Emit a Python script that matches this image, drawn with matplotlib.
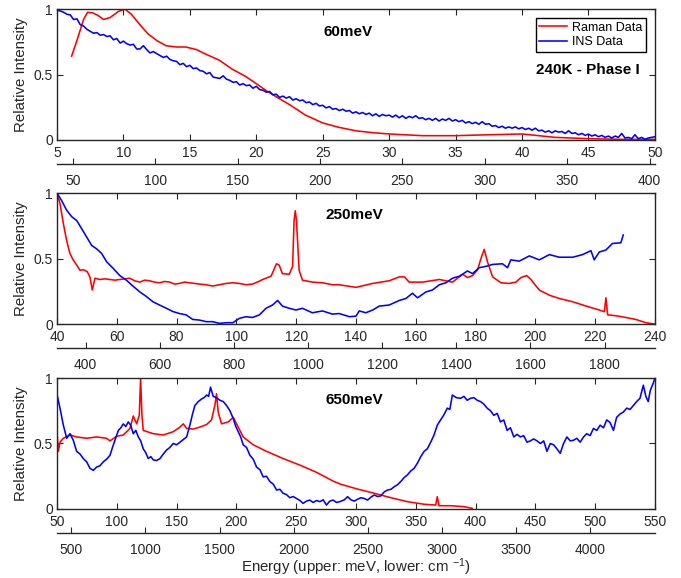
import numpy as np
import matplotlib
matplotlib.use('Agg')
import matplotlib.pyplot as plt

plt.rcParams['font.family'] = ['Liberation Sans', 'DejaVu Sans']
plt.rcParams['mathtext.default'] = 'regular'

MEV_TO_CM = 8.06554
AX_COLOR = '#262626'

# --- 60 meV, 240K ---
raman60_mev = [6.1, 6.5, 7.0, 7.3, 7.7, 8.1, 8.5, 9.0, 9.6, 10.1,
               10.6, 11.2, 11.85, 12.5, 13.2, 14.0, 14.7, 15.5, 16.2, 17.2,
               18.2, 19.2, 20.0, 20.7, 21.5, 22.5, 23.7, 25.0, 26.2, 27.5,
               28.75, 30, 32.5, 35, 37.5, 40, 41.25, 42.5, 45, 47.5,
               50]
raman60_int = [0.64, 0.76, 0.92, 0.975, 0.97, 0.95, 0.92, 0.935, 0.98, 1.0,
               0.96, 0.885, 0.81, 0.76, 0.72, 0.71, 0.71, 0.69, 0.655, 0.61,
               0.54, 0.485, 0.43, 0.38, 0.33, 0.27, 0.19, 0.13, 0.097, 0.07,
               0.056, 0.046, 0.033, 0.033, 0.04, 0.046, 0.033, 0.02, 0.01, 0.005,
               0.005]

ins60_mev = [5.0, 5.25, 5.5, 5.75, 6.0, 6.25, 6.5, 6.75,
             7.0, 7.25, 7.5, 7.75, 8.0, 8.25, 8.5, 8.75,
             9.0, 9.25, 9.5, 9.75, 10.0, 10.25, 10.5, 10.75,
             11.0, 11.25, 11.5, 11.75, 12.0, 12.25, 12.5, 12.75,
             13.0, 13.25, 13.5, 13.75, 14.0, 14.25, 14.5, 14.75,
             15.0, 15.25, 15.5, 15.75, 16.0, 16.25, 16.5, 16.75,
             17.0, 17.25, 17.5, 17.75, 18.0, 18.25, 18.5, 18.75,
             19.0, 19.25, 19.5, 19.75, 20.0, 20.25, 20.5, 20.75,
             21.0, 21.25, 21.5, 21.75, 22.0, 22.25, 22.5, 22.75,
             23.0, 23.25, 23.5, 23.75, 24.0, 24.25, 24.5, 24.75,
             25.0, 25.25, 25.5, 25.75, 26.0, 26.25, 26.5, 26.75,
             27.0, 27.25, 27.5, 27.75, 28.0, 28.25, 28.5, 28.75,
             29.0, 29.25, 29.5, 29.75, 30.0, 30.25, 30.5, 30.75,
             31.0, 31.25, 31.5, 31.75, 32.0, 32.25, 32.5, 32.75,
             33.0, 33.25, 33.5, 33.75, 34.0, 34.25, 34.5, 34.75,
             35.0, 35.25, 35.5, 35.75, 36.0, 36.25, 36.5, 36.75,
             37.0, 37.25, 37.5, 37.75, 38.0, 38.25, 38.5, 38.75,
             39.0, 39.25, 39.5, 39.75, 40.0, 40.25, 40.5, 40.75,
             41.0, 41.25, 41.5, 41.75, 42.0, 42.25, 42.5, 42.75,
             43.0, 43.25, 43.5, 43.75, 44.0, 44.25, 44.5, 44.75,
             45.0, 45.25, 45.5, 45.75, 46.0, 46.25, 46.5, 46.75,
             47.0, 47.25, 47.5, 47.75, 48.0, 48.25, 48.5, 48.75,
             49.0, 49.25, 49.5, 49.75, 50.0]
ins60_int = [0.99, 0.985, 0.975, 0.96, 0.955, 0.92, 0.925, 0.88,
             0.87, 0.845, 0.83, 0.815, 0.82, 0.80, 0.805, 0.79,
             0.795, 0.765, 0.775, 0.74, 0.755, 0.735, 0.725, 0.73,
             0.695, 0.695, 0.72, 0.69, 0.665, 0.675, 0.66, 0.645,
             0.63, 0.64, 0.615, 0.605, 0.60, 0.575, 0.585, 0.56,
             0.57, 0.545, 0.55, 0.53, 0.525, 0.505, 0.515, 0.48,
             0.475, 0.47, 0.49, 0.465, 0.455, 0.44, 0.445, 0.42,
             0.43, 0.415, 0.42, 0.395, 0.41, 0.385, 0.38, 0.365,
             0.37, 0.345, 0.35, 0.325, 0.335, 0.32, 0.33, 0.305,
             0.315, 0.30, 0.305, 0.285, 0.29, 0.27, 0.28, 0.26,
             0.265, 0.245, 0.255, 0.235, 0.24, 0.225, 0.235, 0.22,
             0.225, 0.205, 0.215, 0.20, 0.21, 0.195, 0.205, 0.185,
             0.20, 0.18, 0.195, 0.185, 0.19, 0.175, 0.19, 0.17,
             0.185, 0.165, 0.18, 0.17, 0.185, 0.165, 0.17, 0.155,
             0.165, 0.15, 0.165, 0.145, 0.16, 0.15, 0.165, 0.145,
             0.155, 0.14, 0.15, 0.13, 0.14, 0.125, 0.135, 0.12,
             0.14, 0.12, 0.125, 0.105, 0.11, 0.095, 0.105, 0.09,
             0.10, 0.09, 0.10, 0.085, 0.095, 0.08, 0.09, 0.075,
             0.09, 0.07, 0.075, 0.06, 0.07, 0.055, 0.07, 0.06,
             0.065, 0.05, 0.07, 0.05, 0.055, 0.04, 0.05, 0.035,
             0.045, 0.03, 0.04, 0.025, 0.035, 0.02, 0.03, 0.015,
             0.03, 0.02, 0.05, 0.015, 0.02, 0.01, 0.04, 0.01,
             0.02, 0.005, 0.015, 0.02, 0.025]

# --- 250 meV ---
raman250_mev = [40, 41, 42.1, 43.2, 44.3, 45.4, 46.6, 47.7, 48.8, 50.1,
                51, 51.8, 52.7, 54.3, 56, 57.7, 59.4, 61, 62.6, 64.3,
                66, 67.7, 69.3, 71, 72.6, 74.3, 76, 77.7, 79.3, 81,
                82.6, 84.3, 86, 87.7, 89.9, 92.1, 94.3, 96.6, 98.8, 101,
                103.2, 105.4, 107, 108.8, 111.6, 113.4, 114.3, 115.4, 117.7, 118.8,
                119.3, 119.7, 120.1, 121, 122.1, 125.4, 128.8, 132.1, 134.4, 140,
                145.6, 151.1, 154.5, 156.2, 157.8, 162.3, 167.9, 172.3, 175.7, 177.3,
                179, 180.7, 181.8, 182.9, 184, 185.7, 188.5, 191.3, 193.5, 195.2,
                197.1, 198.5, 201.3, 204.7, 208, 212.5, 217, 221.4, 223.1, 223.6,
                224.2, 227, 230.3, 233.6, 237, 239.8]
raman250_int = [1.0, 0.92, 0.77, 0.64, 0.54, 0.49, 0.45, 0.41, 0.415, 0.40,
                0.36, 0.26, 0.35, 0.34, 0.345, 0.34, 0.335, 0.34, 0.345, 0.35,
                0.33, 0.32, 0.335, 0.33, 0.32, 0.315, 0.325, 0.32, 0.305, 0.31,
                0.32, 0.315, 0.31, 0.305, 0.30, 0.29, 0.30, 0.31, 0.315, 0.31,
                0.30, 0.305, 0.32, 0.34, 0.365, 0.46, 0.45, 0.385, 0.38, 0.44,
                0.79, 0.865, 0.79, 0.41, 0.335, 0.32, 0.315, 0.30, 0.30, 0.28,
                0.31, 0.33, 0.36, 0.36, 0.32, 0.32, 0.34, 0.32, 0.38, 0.355,
                0.37, 0.415, 0.50, 0.57, 0.475, 0.36, 0.315, 0.31, 0.32, 0.355,
                0.37, 0.34, 0.26, 0.22, 0.195, 0.17, 0.137, 0.107, 0.094, 0.20,
                0.07, 0.063, 0.05, 0.035, 0.01, 0.0]

ins250_mev = [40, 41.6, 43.2, 44.9, 46.6, 48.2, 49.9, 51.6, 53.2, 54.9,
              56.6, 58.8, 61, 63.2, 65.4, 67.7, 69.9, 72.1, 74.3, 76.6,
              78.8, 81, 83.2, 85.4, 87.7, 89.9, 92.1, 94.3, 96.6, 98.8,
              101, 103.2, 105.4, 107.7, 109.9, 112.1, 113.8, 115.4, 117.7, 119.9,
              122.1, 125.4, 128.8, 132.1, 134.4, 137.8, 140, 141.1, 143.3, 145.6,
              147.8, 151.1, 154.5, 156.7, 158.9, 160.6, 163.4, 165.6, 167.9, 170.1,
              172.3, 174.6, 177.3, 179, 181.2, 183.4, 185.7, 189, 190.7, 191.8,
              194.6, 198, 201.3, 204.7, 208, 210.2, 212.5, 215.8, 218.6, 219.7,
              221.4, 223.6, 225.8, 228.6, 229.4]
ins250_int = [1.0, 0.94, 0.87, 0.82, 0.79, 0.73, 0.665, 0.60, 0.575, 0.54,
              0.475, 0.425, 0.37, 0.335, 0.29, 0.245, 0.21, 0.17, 0.145, 0.12,
              0.095, 0.08, 0.07, 0.035, 0.03, 0.018, 0.018, 0.005, 0.01, 0.01,
              0.043, 0.056, 0.05, 0.07, 0.12, 0.145, 0.18, 0.137, 0.12, 0.107,
              0.12, 0.086, 0.10, 0.076, 0.08, 0.056, 0.06, 0.10, 0.086, 0.107,
              0.137, 0.145, 0.18, 0.195, 0.235, 0.20, 0.245, 0.26, 0.30, 0.315,
              0.35, 0.365, 0.405, 0.385, 0.43, 0.44, 0.455, 0.46, 0.43, 0.49,
              0.48, 0.52, 0.49, 0.53, 0.51, 0.51, 0.51, 0.53, 0.56, 0.49,
              0.55, 0.565, 0.615, 0.62, 0.68]

# --- 650 meV ---
raman650_mev = [50, 51.1, 52.5, 55.3, 60.9, 66.4, 74.8, 83.1, 91.5, 94.3,
                99.9, 105.4, 111, 113.8, 116.6, 118.8, 119.9, 121, 122.1, 130.5,
                138.9, 147.2, 152.8, 155.6, 158.4, 163.9, 169.5, 175.1, 179.2, 182,
                183.4, 184.8, 187.6, 193.2, 197.4, 200.7, 205.7, 214.1, 225.2, 239.1,
                253.1, 267, 280.9, 287.5, 301.4, 315.3, 329.2, 343, 357, 366.7,
                368, 369.4, 379, 390.3, 397.2]
raman650_int = [0.59, 0.44, 0.51, 0.54, 0.565, 0.55, 0.54, 0.55, 0.54, 0.52,
                0.555, 0.565, 0.615, 0.71, 0.65, 0.715, 1.0, 0.72, 0.60, 0.575,
                0.565, 0.59, 0.625, 0.65, 0.615, 0.61, 0.625, 0.645, 0.68, 0.79,
                0.88, 0.74, 0.65, 0.665, 0.70, 0.64, 0.55, 0.49, 0.44, 0.385,
                0.335, 0.28, 0.213, 0.188, 0.152, 0.12, 0.086, 0.056, 0.036, 0.03,
                0.094, 0.025, 0.025, 0.018, 0.005]

ins650_mev = [50, 52.5, 55.3, 58.1, 60.9, 63.6, 66.4, 69.2, 72, 74.8,
              77.6, 80.4, 83.1, 85.9, 88.7, 91.5, 94.3, 96.4, 98.5, 101.3,
              103.4, 105.4, 107.5, 109.6, 111.6, 113.8, 115.9, 118, 120, 122.1,
              124.2, 126.3, 128.4, 130.5, 133.3, 136.1, 138.9, 141.6, 144.4, 147.2,
              150, 152.8, 155.6, 158.4, 161.1, 163.2, 165.3, 168.1, 170.9, 173,
              175.1, 176.8, 178.4, 180.6, 183.4, 186.2, 189, 191.8, 194.6, 197.4,
              199.5, 201.5, 203.6, 205.7, 208.5, 211.3, 214.1, 216.9, 219.7, 222.4,
              225.2, 228, 230.8, 233.6, 236.4, 239.1, 241.9, 244.7, 247.5, 250.3,
              253.1, 255.8, 258.6, 261.4, 264.2, 267, 269.8, 272.6, 275.3, 278.1,
              280.9, 283.7, 286.5, 290.3, 293, 295.8, 298.6, 301.4, 304.2, 307,
              309.7, 312.5, 315.3, 318.1, 320.8, 323.6, 326.4, 329.2, 332, 334.7,
              337.5, 340.3, 343, 345.8, 348.6, 351.4, 354.2, 357, 359.7, 362.5,
              365.3, 368, 370.8, 373.6, 376.4, 378.5, 380.6, 384, 387.5, 390.3,
              393, 395.8, 398.6, 401.4, 404.2, 407, 409.7, 412.5, 415.3, 418.1,
              420.8, 423.6, 426.4, 429.2, 432, 434.7, 437.5, 440.3, 443, 445.8,
              448.6, 451.4, 454.2, 457, 459.7, 462.5, 465.3, 468, 470.8, 473.6,
              476.4, 479.2, 482, 484.7, 487.5, 490.3, 493, 495.8, 498.6, 501.4,
              504.2, 507, 509.7, 512.5, 515.3, 518, 520.8, 523.6, 526.4, 529.2,
              532, 534.7, 537.5, 540.3, 542.4, 544.4, 546, 547.2, 548.6, 550]
ins650_int = [0.875, 0.77, 0.64, 0.54, 0.575, 0.525, 0.44, 0.42, 0.385, 0.36,
              0.31, 0.295, 0.32, 0.33, 0.36, 0.38, 0.41, 0.47, 0.525, 0.60,
              0.62, 0.65, 0.63, 0.665, 0.64, 0.575, 0.60, 0.55, 0.52, 0.46,
              0.43, 0.385, 0.40, 0.375, 0.37, 0.385, 0.42, 0.45, 0.47, 0.50,
              0.49, 0.51, 0.53, 0.55, 0.64, 0.72, 0.79, 0.82, 0.84, 0.85,
              0.87, 0.86, 0.93, 0.86, 0.85, 0.83, 0.82, 0.79, 0.75, 0.69,
              0.63, 0.59, 0.55, 0.49, 0.47, 0.41, 0.38, 0.32, 0.30, 0.245,
              0.25, 0.21, 0.19, 0.145, 0.15, 0.12, 0.11, 0.086, 0.095, 0.08,
              0.065, 0.043, 0.06, 0.068, 0.05, 0.065, 0.056, 0.07, 0.03, 0.06,
              0.068, 0.05, 0.056, 0.07, 0.094, 0.07, 0.06, 0.075, 0.086, 0.08,
              0.068, 0.09, 0.107, 0.095, 0.10, 0.13, 0.145, 0.15, 0.17, 0.185,
              0.21, 0.24, 0.26, 0.29, 0.31, 0.35, 0.40, 0.44, 0.46, 0.51,
              0.565, 0.64, 0.68, 0.72, 0.77, 0.76, 0.87, 0.85, 0.845, 0.86,
              0.83, 0.845, 0.85, 0.83, 0.82, 0.80, 0.77, 0.75, 0.715, 0.73,
              0.665, 0.68, 0.60, 0.62, 0.55, 0.57, 0.55, 0.56, 0.51, 0.52,
              0.535, 0.52, 0.50, 0.52, 0.44, 0.50, 0.49, 0.46, 0.425, 0.50,
              0.55, 0.52, 0.525, 0.54, 0.51, 0.55, 0.575, 0.56, 0.615, 0.60,
              0.64, 0.62, 0.68, 0.66, 0.60, 0.70, 0.725, 0.74, 0.77, 0.76,
              0.79, 0.82, 0.845, 0.945, 0.86, 0.82, 0.90, 0.93, 0.96, 1.0]

panels = [
    dict(raman=(raman60_mev, raman60_int), ins=(ins60_mev, ins60_int),
         xlim=(5, 50), mev_ticks=list(range(5, 51, 5)),
         cm_ticks=list(range(50, 401, 50)), title='60meV', title_pos=(0.487, 0.827)),
    dict(raman=(raman250_mev, raman250_int), ins=(ins250_mev, ins250_int),
         xlim=(40, 240), mev_ticks=list(range(40, 241, 20)),
         cm_ticks=list(range(400, 1801, 200)), title='250meV', title_pos=(0.497, 0.832)),
    dict(raman=(raman650_mev, raman650_int), ins=(ins650_mev, ins650_int),
         xlim=(50, 550), mev_ticks=list(range(50, 551, 50)),
         cm_ticks=list(range(500, 4001, 500)), title='650meV', title_pos=(0.497, 0.832)),
]

# axes boxes in figure fractions (left, bottom, width, height)
boxes = [(0.0837, 0.7578, 0.878, 0.2266),
         (0.0837, 0.4394, 0.878, 0.2266),
         (0.0837, 0.1194, 0.878, 0.2266)]


def draw_panel(fig, box, p):
    ax = fig.add_axes(box)
    ax.plot(*p['raman'], color='red', lw=1.15, label='Raman Data')
    ax.plot(*p['ins'], color='blue', lw=1.15, label='INS Data')
    ax.set_xlim(p['xlim'])
    ax.set_ylim(0, 1)
    ax.set_xticks(p['mev_ticks'])
    ax.set_yticks([0, 0.5, 1])
    ax.set_yticklabels(['0', '0.5', '1'])
    ax.tick_params(axis='both', direction='in', top=True, right=True,
                   length=4, width=0.8, labelsize=10, colors=AX_COLOR)
    ax.tick_params(axis='x', pad=4.5)
    ax.tick_params(axis='y', pad=3)
    for s in ax.spines.values():
        s.set_linewidth(1.0)
        s.set_color(AX_COLOR)
    ax.set_ylabel('Relative Intensity', fontsize=10.8, color=AX_COLOR)
    ax.yaxis.set_label_coords(-0.048, 0.5)
    ax.text(p['title_pos'][0], p['title_pos'][1], p['title'], transform=ax.transAxes,
            ha='center', va='center', fontsize=11, fontweight='bold')

    # wavenumber scale under each panel
    sec = ax.secondary_xaxis(-0.186, functions=(lambda e: e * MEV_TO_CM,
                                                lambda w: w / MEV_TO_CM))
    sec.set_xticks(p['cm_ticks'])
    sec.tick_params(direction='in', length=4, width=0.8, labelsize=10,
                    colors=AX_COLOR, pad=7)
    sec.spines['bottom'].set_linewidth(1.0)
    sec.spines['bottom'].set_color(AX_COLOR)
    return ax


fig = plt.figure(figsize=(6.81, 5.78), dpi=100)
axes = [draw_panel(fig, b, p) for b, p in zip(boxes, panels)]

leg = axes[0].legend(loc='upper right', bbox_to_anchor=(0.985, 0.931), borderaxespad=0,
                     fontsize=9, fancybox=False, framealpha=1, handlelength=2.2,
                     borderpad=0.3, labelspacing=0.2, handletextpad=0.4)
leg.get_frame().set_edgecolor('black')
leg.get_frame().set_linewidth(1.0)

axes[0].text(0.888, 0.534, '240K - Phase I', transform=axes[0].transAxes,
             ha='center', va='center', fontsize=11, fontweight='bold')

fig.text(0.522, 0.019, 'Energy (upper: meV, lower: cm $^{-1}$)', ha='center', va='center',
         fontsize=10.8, color=AX_COLOR)

fig.savefig('out.png', dpi=100)
